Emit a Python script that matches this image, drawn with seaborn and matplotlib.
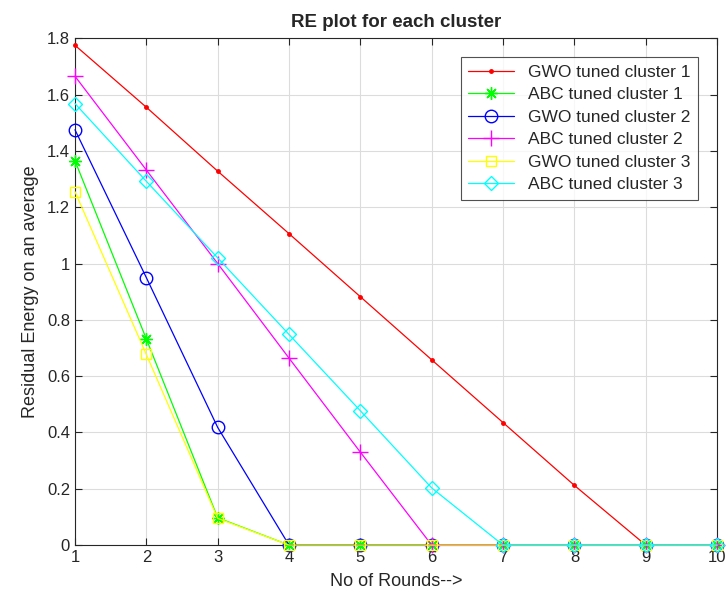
import matplotlib
matplotlib.use("Agg")
import matplotlib.pyplot as plt
import seaborn as sns
import pandas as pd

# data
rounds = [1, 2, 3, 4, 5, 6, 7, 8, 9, 10]
gwo_c1 = [1.775, 1.555, 1.328, 1.106, 0.882, 0.658, 0.435, 0.212, 0, 0]
abc_c1 = [1.365, 0.732, 0.097, 0, 0, 0, 0, 0, 0, 0]
gwo_c2 = [1.475, 0.950, 0.418, 0, 0, 0, 0, 0, 0, 0]
abc_c2 = [1.665, 1.332, 1.000, 0.664, 0.330, 0, 0, 0, 0, 0]
gwo_c3 = [1.255, 0.677, 0.095, 0, 0, 0, 0, 0, 0, 0]
abc_c3 = [1.568, 1.292, 1.020, 0.748, 0.477, 0.203, 0, 0, 0, 0]

labels = ["GWO tuned cluster 1", "ABC tuned cluster 1", "GWO tuned cluster 2",
          "ABC tuned cluster 2", "GWO tuned cluster 3", "ABC tuned cluster 3"]
series = [gwo_c1, abc_c1, gwo_c2, abc_c2, gwo_c3, abc_c3]
colors = ["#ff0000", "#00ff00", "#0000ff", "#ff00ff", "#ffff00", "#00ffff"]
markers = [".", (8, 2, 0), "o", "+", "s", "D"]
msizes = [5, 9, 9, 11, 7, 7.5]

sns.set_style("white")
plt.rcParams["font.family"] = ["Liberation Sans", "DejaVu Sans"]

fig = plt.figure(figsize=(7.28, 6.07), dpi=100)
ax = fig.add_axes([0.103, 0.102, 0.882, 0.835])

for lab, vals, c, m, ms in zip(labels, series, colors, markers, msizes):
    df = pd.DataFrame({"round": rounds, "re": vals})
    sns.lineplot(data=df, x="round", y="re", ax=ax, color=c, marker=m,
                 markersize=ms, markerfacecolor=c if m == "." else "none",
                 markeredgecolor=c, markeredgewidth=1.0, linewidth=0.9,
                 label=lab, clip_on=False, zorder=3)

ax.set_xlim(1, 10)
ax.set_ylim(0, 1.8)
ax.set_xticks(rounds)
ax.set_yticks([0, 0.2, 0.4, 0.6, 0.8, 1, 1.2, 1.4, 1.6, 1.8])
ax.set_yticklabels(["0", "0.2", "0.4", "0.6", "0.8", "1", "1.2", "1.4", "1.6", "1.8"])
ax.grid(True, color="#dcdcdc", linewidth=0.8)
ax.set_axisbelow(True)
ax.tick_params(direction="in", length=5, labelsize=12, colors="#262626",
               top=True, right=True, bottom=True, left=True)
for s in ax.spines.values():
    s.set_color("#262626")
    s.set_linewidth(0.8)

ax.set_xlabel("No of Rounds-->", fontsize=13, color="#262626", labelpad=6)
ax.set_ylabel("Residual Energy on an average", fontsize=13, color="#262626", labelpad=6)
ax.set_title("RE plot for each cluster", fontsize=13.5, fontweight="bold", pad=8)

leg = ax.legend(loc="upper right", bbox_to_anchor=(0.970, 0.963), borderaxespad=0,
                fontsize=12.5, frameon=True, fancybox=False, edgecolor="#262626",
                handlelength=2.6, borderpad=0.45, labelspacing=0.42)
leg.get_frame().set_linewidth(0.8)

fig.savefig("out.png", dpi=100)
